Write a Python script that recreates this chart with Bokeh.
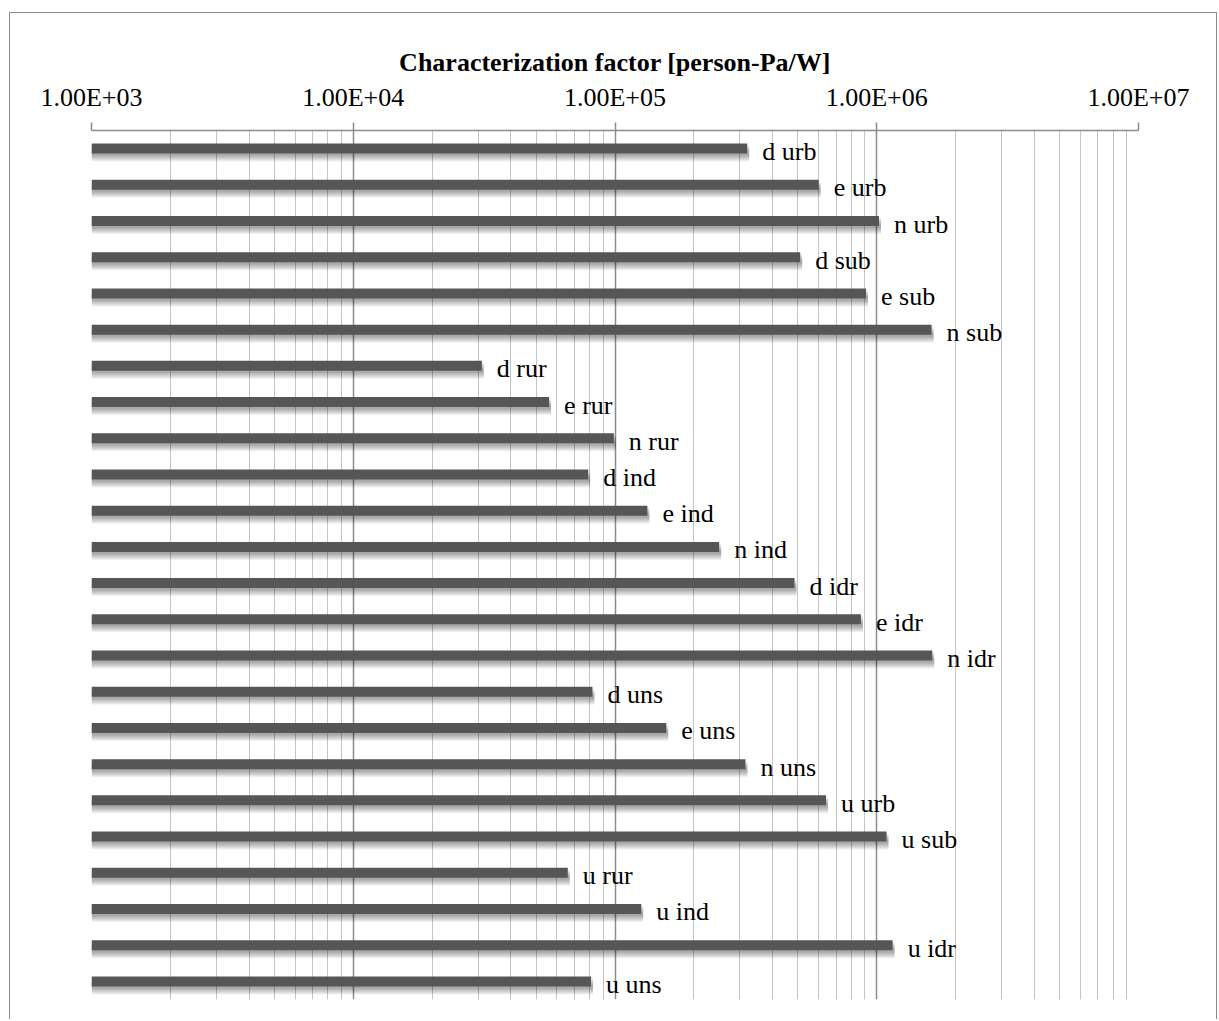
from bokeh.plotting import figure
from bokeh.models import Range1d, FixedTicker, ColumnDataSource
from bokeh.core.properties import value
from bokeh.embed import file_html
from bokeh.resources import INLINE

# ---- data ----
categories = ["d urb", "e urb", "n urb", "d sub", "e sub", "n sub",
              "d rur", "e rur", "n rur", "d ind", "e ind", "n ind",
              "d idr", "e idr", "n idr", "d uns", "e uns", "n uns",
              "u urb", "u sub", "u rur", "u ind", "u idr", "u uns"]
factors = [3.2e5, 6.0e5, 1.02e6, 5.1e5, 9.1e5, 1.62e6,
           3.1e4, 5.6e4, 9.9e4, 7.9e4, 1.33e5, 2.5e5,
           4.85e5, 8.7e5, 1.63e6, 8.2e4, 1.57e5, 3.15e5,
           6.4e5, 1.09e6, 6.6e4, 1.26e5, 1.15e6, 8.1e4]
major_ticks = [1e3, 1e4, 1e5, 1e6, 1e7]
tick_labels = ["1.00E+03", "1.00E+04", "1.00E+05", "1.00E+06", "1.00E+07"]
title_text = "Characterization factor [person-Pa/W]"

FONT = "Liberation Serif"
BAR = "#565656"

n = len(categories)
pos = list(range(n))
base = [major_ticks[0]] * n

p = figure(width=1208, height=1007, output_backend="svg", toolbar_location=None,
           x_axis_type="log", x_axis_location="above", y_axis_location=None,
           x_range=Range1d(major_ticks[0], major_ticks[-1]),
           y_range=Range1d(n - 0.5, -0.5),
           min_border_left=81, min_border_right=80,
           min_border_top=117, min_border_bottom=21,
           styles={"margin-left": "9px", "margin-top": "12px",
                   "border-left": "1px solid #8c8c8c",
                   "border-top": "1px solid #8c8c8c",
                   "border-right": "1px solid #8c8c8c"})
p.outline_line_color = None
p.background_fill_color = "white"
p.border_fill_color = "white"

# ticks & grid
minor = [m * d for d in major_ticks[:-1] for m in range(2, 10)]
p.xaxis.ticker = FixedTicker(ticks=major_ticks, minor_ticks=minor)
p.xgrid.ticker = FixedTicker(ticks=major_ticks, minor_ticks=minor)
p.xaxis.major_label_overrides = {t: lab for t, lab in zip(major_ticks, tick_labels)}
p.xaxis.major_label_text_font = FONT
p.xaxis.major_label_text_font_size = "26px"
p.xaxis.major_label_text_color = "black"
p.xaxis.major_label_standoff = 11
p.xaxis.major_tick_out = 8
p.xaxis.major_tick_in = 0
p.xaxis.minor_tick_out = 0
p.xaxis.minor_tick_in = 0
p.xaxis.major_tick_line_color = "#8c8c8c"
p.xaxis.major_tick_line_width = 1.5
p.xaxis.axis_line_color = "#8c8c8c"
p.xaxis.axis_line_width = 1.5
p.xaxis.axis_label = title_text
p.xaxis.axis_label_text_font = FONT
p.xaxis.axis_label_text_font_style = "bold"
p.xaxis.axis_label_text_font_size = "26px"
p.xaxis.axis_label_text_color = "black"
p.xaxis.axis_label_standoff = 3

p.xgrid.grid_line_color = "#8c8c8c"
p.xgrid.grid_line_width = 1.5
p.xgrid.minor_grid_line_color = "#c4c4c4"
p.xgrid.minor_grid_line_width = 1
p.ygrid.grid_line_color = None

# bars with soft drop shadow
px = 1.0 / 36.2
src = ColumnDataSource(dict(y=pos, left=base, right=factors, name=categories))
for k in [2, 3, 4, 5, 6, 7, 8]:
    sh = ColumnDataSource(dict(y=[v + k * px for v in pos], left=base,
                               right=[f * 10 ** (2.0 / 261.75) for f in factors]))
    p.hbar(y="y", left="left", right="right", height=10 * px, source=sh,
           fill_color="black", fill_alpha=0.055, line_color=None)
p.hbar(y="y", left="left", right="right", height=10 * px, source=src,
       fill_color=BAR, line_color=None)

p.text(x="right", y="y", text="name", source=src, x_offset=15, y_offset=3,
       text_font=value(FONT), text_font_size="26px", text_color="black",
       text_baseline="middle", text_align="left")

open("out.html", "w").write(file_html(p, INLINE))
